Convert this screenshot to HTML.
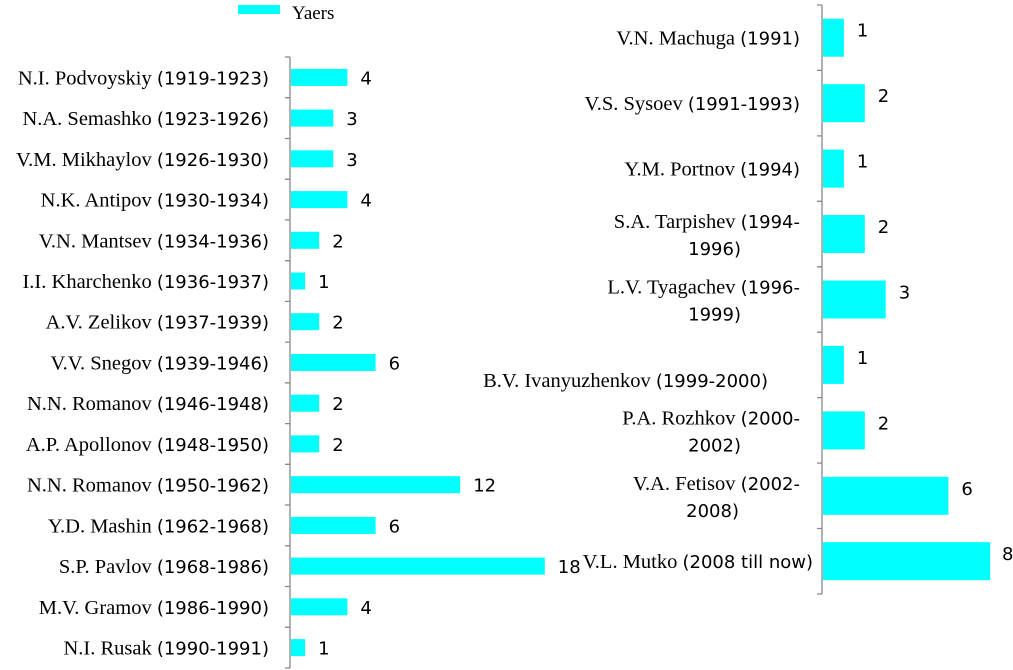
<!DOCTYPE html>
<html><head><meta charset="utf-8"><style>
body{margin:0;background:#fff}
svg{display:block}
.n{font-family:"Liberation Serif",serif;font-size:20.5px;fill:#000}
.y{font-family:"DejaVu Sans","Liberation Sans",sans-serif;font-size:18px}
.v{font-family:"DejaVu Sans","Liberation Sans",sans-serif;font-size:18px;fill:#000}
.r text.n{text-anchor:end}
</style></head><body>
<svg width="1013" height="670" viewBox="0 0 1013 670" xmlns="http://www.w3.org/2000/svg">
<rect x="238" y="5" width="42" height="9" fill="#00ffff"/>
<text x="292" y="19" class="n" style="font-size:19px">Yaers</text>
<g stroke="#888" stroke-width="1.3">
<line x1="290" y1="57" x2="290" y2="668"/>
<path d="M285 57H290M285 97.7H290M285 138.5H290M285 179.2H290M285 219.9H290M285 260.7H290M285 301.4H290M285 342.1H290M285 382.8H290M285 423.6H290M285 464.3H290M285 505H290M285 545.8H290M285 586.5H290M285 627.2H290M285 668H290" fill="none"/>
<line x1="822" y1="5" x2="822" y2="594"/>
<path d="M817 5H822M817 70.4H822M817 135.9H822M817 201.3H822M817 266.8H822M817 332.2H822M817 397.6H822M817 463.1H822M817 528.5H822M817 594H822" fill="none"/>
</g>
<g fill="#00ffff">
<rect x="291" y="68.9" width="56.4" height="17"/>
<rect x="291" y="109.6" width="42.3" height="17"/>
<rect x="291" y="150.3" width="42.3" height="17"/>
<rect x="291" y="191.1" width="56.4" height="17"/>
<rect x="291" y="231.8" width="28.2" height="17"/>
<rect x="291" y="272.5" width="14.1" height="17"/>
<rect x="291" y="313.2" width="28.2" height="17"/>
<rect x="291" y="354" width="84.6" height="17"/>
<rect x="291" y="394.7" width="28.2" height="17"/>
<rect x="291" y="435.4" width="28.2" height="17"/>
<rect x="291" y="476.2" width="169.2" height="17"/>
<rect x="291" y="516.9" width="84.6" height="17"/>
<rect x="291" y="557.6" width="253.8" height="17"/>
<rect x="291" y="598.3" width="56.4" height="17"/>
<rect x="291" y="639.1" width="14.1" height="17"/>
<rect x="823" y="18.7" width="20.9" height="38"/>
<rect x="823" y="84.2" width="41.8" height="38"/>
<rect x="823" y="149.6" width="20.9" height="38"/>
<rect x="823" y="215" width="41.8" height="38"/>
<rect x="823" y="280.5" width="62.7" height="38"/>
<rect x="823" y="345.9" width="20.9" height="38"/>
<rect x="823" y="411.4" width="41.8" height="38"/>
<rect x="823" y="476.8" width="125.4" height="38"/>
<rect x="823" y="542.2" width="167.2" height="38"/>
</g>
<g class="r">
<text x="269" y="84.4" class="n">N.I. Podvoyskiy <tspan class="y">(1919-1923)</tspan></text>
<text x="269" y="125.1" class="n">N.A. Semashko <tspan class="y">(1923-1926)</tspan></text>
<text x="269" y="165.8" class="n">V.M. Mikhaylov <tspan class="y">(1926-1930)</tspan></text>
<text x="269" y="206.6" class="n">N.K. Antipov <tspan class="y">(1930-1934)</tspan></text>
<text x="269" y="247.3" class="n">V.N. Mantsev <tspan class="y">(1934-1936)</tspan></text>
<text x="269" y="288" class="n">I.I. Kharchenko <tspan class="y">(1936-1937)</tspan></text>
<text x="269" y="328.7" class="n">A.V. Zelikov <tspan class="y">(1937-1939)</tspan></text>
<text x="269" y="369.5" class="n">V.V. Snegov <tspan class="y">(1939-1946)</tspan></text>
<text x="269" y="410.2" class="n">N.N. Romanov <tspan class="y">(1946-1948)</tspan></text>
<text x="269" y="450.9" class="n">A.P. Apollonov <tspan class="y">(1948-1950)</tspan></text>
<text x="269" y="491.7" class="n">N.N. Romanov <tspan class="y">(1950-1962)</tspan></text>
<text x="269" y="532.4" class="n">Y.D. Mashin <tspan class="y">(1962-1968)</tspan></text>
<text x="269" y="573.1" class="n">S.P. Pavlov <tspan class="y">(1968-1986)</tspan></text>
<text x="269" y="613.8" class="n">M.V. Gramov <tspan class="y">(1986-1990)</tspan></text>
<text x="269" y="654.6" class="n">N.I. Rusak <tspan class="y">(1990-1991)</tspan></text>

<text x="800" y="44.7" class="n">V.N. Machuga <tspan class="y">(1991)</tspan></text>
<text x="800" y="110.2" class="n">V.S. Sysoev <tspan class="y">(1991-1993)</tspan></text>
<text x="800" y="175.6" class="n">Y.M. Portnov <tspan class="y">(1994)</tspan></text>
<text x="800" y="228" class="n">S.A. Tarpishev <tspan class="y">(1994-</tspan></text>
<text x="741" y="255" class="n"><tspan class="y">1996)</tspan></text>
<text x="800" y="293.5" class="n">L.V. Tyagachev <tspan class="y">(1996-</tspan></text>
<text x="741" y="320.5" class="n"><tspan class="y">1999)</tspan></text>
<text x="768" y="386.9" class="n">B.V. Ivanyuzhenkov <tspan class="y">(1999-2000)</tspan></text>
<text x="800" y="424.4" class="n">P.A. Rozhkov <tspan class="y">(2000-</tspan></text>
<text x="741" y="451.4" class="n"><tspan class="y">2002)</tspan></text>
<text x="800" y="489.8" class="n">V.A. Fetisov <tspan class="y">(2002-</tspan></text>
<text x="739" y="516.8" class="n"><tspan class="y">2008)</tspan></text>
<text x="813" y="568.2" class="n">V.L. Mutko <tspan class="y">(2008 till now)</tspan></text>
</g>
<g class="v">
<text x="360.4" y="84.4" class="v">4</text>
<text x="346.3" y="125.1" class="v">3</text>
<text x="346.3" y="165.8" class="v">3</text>
<text x="360.4" y="206.6" class="v">4</text>
<text x="332.2" y="247.3" class="v">2</text>
<text x="318.1" y="288" class="v">1</text>
<text x="332.2" y="328.7" class="v">2</text>
<text x="388.6" y="369.5" class="v">6</text>
<text x="332.2" y="410.2" class="v">2</text>
<text x="332.2" y="450.9" class="v">2</text>
<text x="473.2" y="491.7" class="v">12</text>
<text x="388.6" y="532.4" class="v">6</text>
<text x="557.8" y="573.1" class="v">18</text>
<text x="360.4" y="613.8" class="v">4</text>
<text x="318.1" y="654.6" class="v">1</text>
<text x="856.9" y="36.7" class="v">1</text>
<text x="877.8" y="102.2" class="v">2</text>
<text x="856.9" y="167.6" class="v">1</text>
<text x="877.8" y="233" class="v">2</text>
<text x="898.7" y="298.5" class="v">3</text>
<text x="856.9" y="363.9" class="v">1</text>
<text x="877.8" y="429.4" class="v">2</text>
<text x="961.4" y="494.8" class="v">6</text>
<text x="1002" y="560.2" class="v">8</text>
</g>
</svg>
</body></html>
